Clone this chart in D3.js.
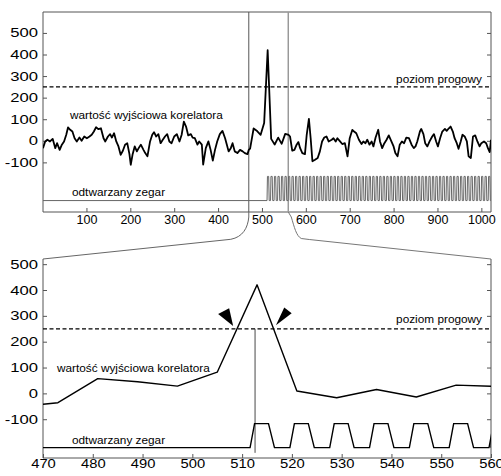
<!DOCTYPE html>
<html><head><meta charset="utf-8">
<script src="https://cdn.jsdelivr.net/npm/d3@7"></script>
<style>
body{margin:0;background:#fff}
svg{display:block}
text{font-family:"Liberation Sans",Arial,sans-serif;fill:#000}
</style>
</head><body>
<svg id="c" width="501" height="476"></svg>
<script>
// ---------- DATA ----------
// correlator output (overview, samples 1..1022)
const topX = [1,6,11,17,23,29,33,39,44,49,54,58,63,68,73,78,84,89,95,101,107,112,117,122,127,133,139,143,149,154,158,163,168,173,178,183,188,193,198,201,205,210,215,219,224,230,234,239,245,250,254,259,264,269,274,279,284,289,294,300,306,312,317,322,327,332,338,342,347,353,357,363,366,372,378,383,388,393,398,404,410,416,420,424,429,433,438,444,450,456,461,467,
470,473,481,489,497,505,513,521,529,537,545,553,561,
564,569,574,579,583,587,592,598,602,607,611,615,621,627,632,637,642,647,652,659,663,668,672,677,683,689,695,700,706,710,715,721,727,731,736,740,745,750,754,759,765,769,774,778,784,789,795,800,804,809,814,819,824,829,835,841,846,850,854,860,863,868,872,877,882,888,892,897,901,906,911,917,921,926,930,935,939,944,948,953,957,962,967,971,976,981,986,991,996,1000,1006,1011,1015,1019,1022];
const topY = [-34,-3,5,-3,9,-34,-11,-42,-18,-3,28,62,51,43,12,-3,15,0,20,12,20,28,43,63,54,58,12,-3,20,31,15,35,-3,-26,-65,-46,-18,-11,-62,-111,-65,-26,-49,-34,-18,-42,-57,-72,-3,28,40,20,31,-11,5,20,31,-3,-11,20,31,-3,28,89,66,25,31,15,12,-18,-3,-18,-110,-34,-3,-42,-92,-42,-3,31,46,12,-18,-49,-34,-11,-49,-57,-42,-49,-57,-62,
-42,-36,57,45,28,82,420,9,-17,15,-14,32,27,
20,-46,-42,-18,-6,-34,-57,-62,28,102,12,-95,-88,-80,-49,-3,15,20,-3,5,12,-3,12,0,-15,-11,-72,12,51,43,35,5,-15,-3,-11,5,-18,-3,-26,15,51,-3,-34,-15,5,25,-3,-26,-57,-72,-18,-3,-11,15,12,-18,-34,-26,-3,43,55,31,-11,-26,-3,20,31,-3,-26,12,43,55,46,58,66,43,12,-11,-37,-3,28,20,-3,-72,-80,20,25,-3,-26,-11,-3,-11,-34,-52,5];

// recovered clock: rising-edge positions
const clockRise = [511.6,519.6,527.6,535.6,543.6,551.6,559.6,567.6,575.6,583.6,591.6,599.6,607.6,615.6,623.6,631.6,639.6,647.6,655.6,663.6,671.6,679.6,687.6,695.6,703.6,711.6,719.6,727.6,735.6,743.6,751.6,759.6,767.6,775.6,783.6,791.6,799.6,807.6,815.6,823.6,831.6,839.6,847.6,855.6,863.6,871.6,879.6,887.6,895.6,903.6,911.6,919.6,927.6,935.6,943.6,951.6,959.6,967.6,975.6,983.6,991.6,999.6,1007.6,1015.6];
const pulseShape = [0, 0.9, 3.7, 4.9];     // rise start, high start, high end, low again
const topClockLevels = [-277, -165];
const botClockLevels = [-210, -117];

const threshold = 250;
const syncSample = 512.6;
const zoomRange = [470, 560];

const yTicks = [-100, 0, 100, 200, 300, 400, 500];
const topXTicks = [100, 200, 300, 400, 500, 600, 700, 800, 900, 1000];
const botXTicks = [470, 480, 490, 500, 510, 520, 530, 540, 550, 560];

const labelSignal = "wartość wyjściowa korelatora";
const labelThreshold = "poziom progowy";
const labelClock = "odtwarzany zegar";

// ---------- DRAW ----------
const svg = d3.select("#c");
const AX = "#555";
const L = 43, R = 491;
const T1 = 12, B1 = 212, T2 = 259, B2 = 458;
const fmt = d => String(d);

const xTop = d3.scaleLinear().domain([1, 1022]).range([L, R]);
const yTop = d3.scaleLinear().domain([-330, 597]).range([B1, T1]);
const xBot = d3.scaleLinear().domain(zoomRange).range([L, R]);
const yBot = d3.scaleLinear().domain([-250, 520]).range([B2, T2]);

const defs = svg.append("defs");
defs.append("clipPath").attr("id","clipTop").append("rect").attr("x",L).attr("y",T1).attr("width",R-L).attr("height",B1-T1);
defs.append("clipPath").attr("id","clipBot").append("rect").attr("x",L).attr("y",T2-30).attr("width",R-L).attr("height",B2-T2+30);

const series = topX.map((x,i)=>[x, topY[i]]);

function clockPoints(levels, x0, x1) {
  const pts = [[x0, levels[0]]];
  clockRise.forEach(r => {
    if (r > x1) return;
    pts.push([r + pulseShape[0], levels[0]]);
    pts.push([r + pulseShape[1], levels[1]]);
    pts.push([r + pulseShape[2], levels[1]]);
    pts.push([r + pulseShape[3], levels[0]]);
  });
  pts.push([x1, levels[0]]);
  return pts;
}

function stretch(sel, f) {
  sel.each(function(){
    const w = this.getComputedTextLength();
    d3.select(this).attr("textLength", w * f).attr("lengthAdjust", "spacingAndGlyphs");
  });
}

function styleAxis(g) {
  g.selectAll("path.domain").attr("stroke", AX);
  g.selectAll(".tick line").attr("stroke", AX);
  g.selectAll("text").attr("fill", "#000").attr("font-family", '"Liberation Sans",Arial,sans-serif');
}

// ===== TOP PANEL =====
const gT = svg.append("g");
gT.append("line").attr("x1",L).attr("x2",R).attr("y1",T1).attr("y2",T1).attr("stroke",AX);
const yaT = gT.append("g").attr("transform",`translate(${L},0)`)
  .call(d3.axisLeft(yTop).tickValues(yTicks).tickFormat(fmt).tickSize(-4).tickSizeOuter(0).tickPadding(5));
yaT.select("path.domain").attr("d", `M0,${T1}V${B1}`);
styleAxis(yaT);
yaT.selectAll("text").attr("font-size", 12.5);
stretch(yaT.selectAll("text"), 1.33);
const raT = gT.append("g").attr("transform",`translate(${R},0)`)
  .call(d3.axisRight(yTop).tickValues(yTicks).tickSize(-4).tickSizeOuter(0).tickFormat(""));
raT.select("path.domain").attr("d", `M0,${T1}V${B1}`);
styleAxis(raT);
const xaT = gT.append("g").attr("transform",`translate(0,${B1})`)
  .call(d3.axisBottom(xTop).tickValues(topXTicks).tickFormat(fmt).tickSize(-4).tickSizeOuter(0).tickPadding(3.5));
xaT.select("path.domain").attr("d", `M${L},0H${R}`);
styleAxis(xaT);
xaT.selectAll("text").attr("font-size", 12.5);

// zoom window verticals
gT.append("line").attr("x1",xTop(zoomRange[0])).attr("x2",xTop(zoomRange[0])).attr("y1",T1).attr("y2",B1)
  .attr("stroke","#555").attr("stroke-width",1);
gT.append("line").attr("x1",xTop(zoomRange[1])).attr("x2",xTop(zoomRange[1])).attr("y1",T1).attr("y2",B1)
  .attr("stroke","#999").attr("stroke-width",1.5);

// threshold
gT.append("line").attr("x1",L).attr("x2",R).attr("y1",yTop(threshold)).attr("y2",yTop(threshold))
  .attr("stroke","#000").attr("stroke-width",1.3).attr("stroke-dasharray","4,2.5");

// clock
gT.append("path").attr("clip-path","url(#clipTop)")
  .attr("d", d3.line().x(d=>xTop(d[0])).y(d=>yTop(d[1]))(clockPoints(topClockLevels, 1, 1022)))
  .attr("fill","none").attr("stroke","#666").attr("stroke-width",1);

// correlator
gT.append("path").attr("clip-path","url(#clipTop)")
  .attr("d", d3.line().x(d=>xTop(d[0])).y(d=>yTop(d[1]))(series))
  .attr("fill","none").attr("stroke","#000").attr("stroke-width",1.8).attr("stroke-linejoin","round");

// labels
gT.append("text").attr("x",70).attr("y",119).attr("font-size",11.8).text(labelSignal);
gT.append("text").attr("x",482).attr("y",83).attr("font-size",11.8).attr("text-anchor","end").text(labelThreshold);
gT.append("text").attr("x",72).attr("y",196).attr("font-size",11.8).text(labelClock);

// ===== CONNECTORS =====
const xa = xTop(zoomRange[0]), xb = xTop(zoomRange[1]);
svg.append("path")
  .attr("d", `M${xa},${B1} L${xa},${B1+5} C${xa-1},${B1+16} ${xa-6},${B1+25} ${xa-18},${B1+27.3} L${L},${T2}`)
  .attr("fill","none").attr("stroke","#666").attr("stroke-width",1);
svg.append("path")
  .attr("d", `M${xb},${B1} L${xb+3},${B1+5} C${xb+6},${B1+15} ${xb+8},${B1+24} ${xb+13},${B1+26.5} L${xb+21},${B1+27.5} L${R},${T2}`)
  .attr("fill","none").attr("stroke","#777").attr("stroke-width",1);

// ===== BOTTOM PANEL =====
const gB = svg.append("g");
const yaB = gB.append("g").attr("transform",`translate(${L},0)`)
  .call(d3.axisLeft(yBot).tickValues(yTicks).tickFormat(fmt).tickSize(-4).tickSizeOuter(0).tickPadding(5));
yaB.select("path.domain").attr("d", `M0,${T2}V${B2}`);
styleAxis(yaB);
yaB.selectAll("text").attr("font-size", 12.5);
stretch(yaB.selectAll("text"), 1.33);

const raB = gB.append("g").attr("transform",`translate(${R},0)`)
  .call(d3.axisRight(yBot).tickValues(yTicks).tickSize(-4).tickSizeOuter(0).tickFormat(""));
raB.select("path.domain").attr("d", `M0,${T2}V${B2}`);
styleAxis(raB);

const xaB = gB.append("g").attr("transform",`translate(0,${B2})`)
  .call(d3.axisBottom(xBot).tickValues(botXTicks).tickFormat(fmt).tickSize(-4).tickSizeOuter(0).tickPadding(1.5));
xaB.select("path.domain").attr("d", `M${L},0H${R}`);
styleAxis(xaB);
xaB.selectAll("text").attr("font-size", 12.5);
stretch(xaB.selectAll("text"), 1.18);

// threshold
gB.append("line").attr("x1",L).attr("x2",R).attr("y1",yBot(threshold)).attr("y2",yBot(threshold))
  .attr("stroke","#000").attr("stroke-width",1.3).attr("stroke-dasharray","4,2.5");

// sync marker
gB.append("line").attr("x1",xBot(syncSample)).attr("x2",xBot(syncSample))
  .attr("y1",yBot(threshold)).attr("y2",yBot(-230)).attr("stroke","#333").attr("stroke-width",0.9);

// clock
gB.append("path").attr("clip-path","url(#clipBot)")
  .attr("d", d3.line().x(d=>xBot(d[0])).y(d=>yBot(d[1]))(clockPoints(botClockLevels, 470, 560).filter(d=>d[0] <= 562)))
  .attr("fill","none").attr("stroke","#000").attr("stroke-width",1.4);

// correlator
gB.append("path").attr("clip-path","url(#clipBot)")
  .attr("d", d3.line().x(d=>xBot(d[0])).y(d=>yBot(d[1]))(series.filter(d=>d[0]>=465 && d[0]<=562)))
  .attr("fill","none").attr("stroke","#000").attr("stroke-width",1.4).attr("stroke-linejoin","round");

// arrowheads pointing at threshold crossings
const arrows = [
  {x: 508.2, y: 261, pts: [[0,0],[-15,-12],[-4,-17.7]]},
  {x: 516.8, y: 264, pts: [[0,0],[8.3,-17.7],[15.7,-12]]}
];
arrows.forEach(a => {
  const px = xBot(a.x), py = yBot(a.y);
  gB.append("path").attr("d", "M" + a.pts.map(p => [px+p[0], py+p[1]].join(",")).join("L") + "Z")
    .attr("fill","#000");
});

// labels
gB.append("text").attr("x",57).attr("y",372).attr("font-size",11.8).text(labelSignal);
gB.append("text").attr("x",482).attr("y",323).attr("font-size",11.8).attr("text-anchor","end").text(labelThreshold);
gB.append("text").attr("x",72).attr("y",444).attr("font-size",11.8).text(labelClock);
</script>
</body></html>
